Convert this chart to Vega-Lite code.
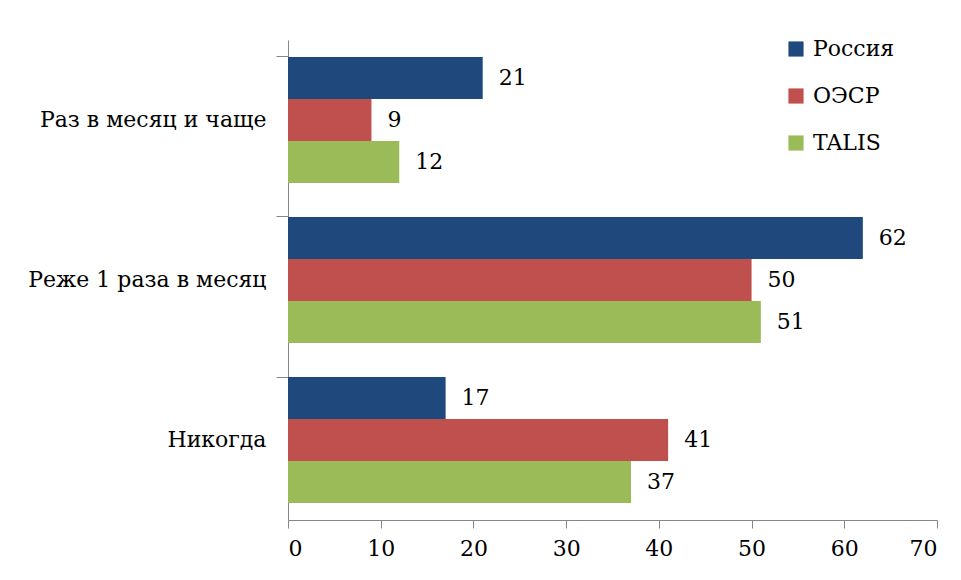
{
  "$schema": "https://vega.github.io/schema/vega-lite/v6.json",
  "width": 649,
  "height": 480,
  "autosize": "none",
  "padding": {"left": 288, "top": 40, "right": 24, "bottom": 60},
  "background": "white",
  "config": {"view": {"stroke": null}, "font": "DejaVu Serif",
    "axis": {"labelFont": "DejaVu Serif", "labelFontSize": 22, "labelColor": "black"},
    "legend": {"labelFont": "DejaVu Serif", "labelFontSize": 22, "labelColor": "black"}},
  "data": {"values": [
    {"cat": "Раз в месяц и чаще", "series": "Россия", "v": 21},
    {"cat": "Раз в месяц и чаще", "series": "ОЭСР", "v": 9},
    {"cat": "Раз в месяц и чаще", "series": "TALIS", "v": 12},
    {"cat": "Реже 1 раза в месяц", "series": "Россия", "v": 62},
    {"cat": "Реже 1 раза в месяц", "series": "ОЭСР", "v": 50},
    {"cat": "Реже 1 раза в месяц", "series": "TALIS", "v": 51},
    {"cat": "Никогда", "series": "Россия", "v": 17},
    {"cat": "Никогда", "series": "ОЭСР", "v": 41},
    {"cat": "Никогда", "series": "TALIS", "v": 37}
  ]},
  "encoding": {
    "y": {"field": "cat", "type": "nominal", "sort": ["Раз в месяц и чаще", "Реже 1 раза в месяц", "Никогда"],
      "scale": {"paddingInner": 0.2125, "paddingOuter": 0.106},
      "axis": {"title": null, "bandPosition": 0, "domainColor": "#868686", "tickColor": "#868686", "tickSize": 12, "labelFontSize": 22, "labelFont": "DejaVu Serif", "labelColor": "black", "labelPadding": 10, "labelLimit": 400}},
    "yOffset": {"field": "series", "type": "nominal", "sort": ["Россия", "ОЭСР", "TALIS"], "scale": {"paddingInner": 0, "paddingOuter": 0}},
    "x": {"field": "v", "type": "quantitative", "scale": {"domain": [0, 70], "nice": false},
      "axis": {"title": null, "values": [0,10,20,30,40,50,60,70], "grid": false, "domainColor": "#868686", "tickColor": "#868686", "tickSize": 8, "labelFontSize": 22, "labelFont": "DejaVu Serif", "labelColor": "black", "labelPadding": 10}}
  },
  "layer": [
    {"mark": {"type": "bar"},
     "encoding": {"color": {"field": "series", "type": "nominal", "sort": ["Россия", "ОЭСР", "TALIS"],
       "scale": {"domain": ["Россия", "ОЭСР", "TALIS"], "range": ["#1F497D", "#C0504D", "#9BBB59"]},
       "legend": {"title": null, "orient": "none", "legendX": 497, "legendY": -2, "symbolType": "square", "symbolSize": 230, "symbolStrokeWidth": 0, "labelFontSize": 22, "labelFont": "DejaVu Serif", "labelColor": "black", "rowPadding": 25, "labelOffset": 6}}}},
    {"mark": {"type": "text", "align": "left", "baseline": "middle", "dx": 16, "fontSize": 22, "font": "DejaVu Serif", "color": "black"},
     "encoding": {"text": {"field": "v", "type": "quantitative"}}}
  ]
}
